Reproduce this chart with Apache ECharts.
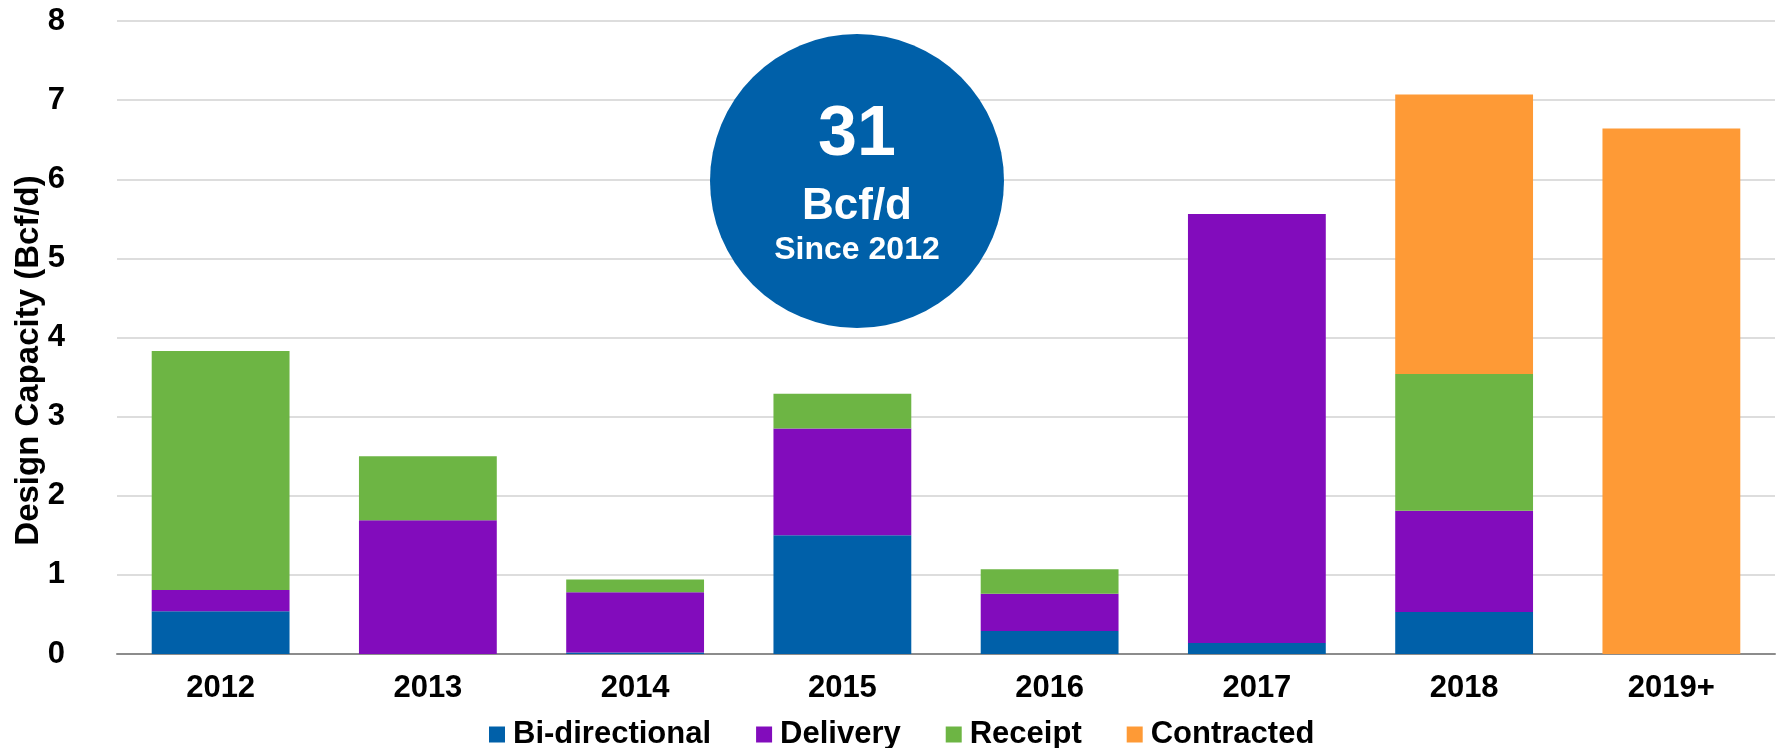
<!DOCTYPE html>
<html>
<head>
<meta charset="utf-8">
<script src="https://cdn.jsdelivr.net/npm/echarts@6/dist/echarts.min.js"></script>
<style>
  html, body { margin: 0; padding: 0; background: #fff; }
  #chart { width: 1777px; height: 748px; }
</style>
</head>
<body>
<div id="chart"></div>
<script>
// categories and stacked values (Bcf/d)
const years = ["2012", "2013", "2014", "2015", "2016", "2017", "2018", "2019+"];
const biDirectional = [0.54, 0, 0.02, 1.5, 0.29, 0.14, 0.53, 0];
const delivery = [0.27, 1.69, 0.76, 1.35, 0.47, 5.42, 1.28, 0];
const receipt = [3.02, 0.81, 0.16, 0.44, 0.31, 0, 1.73, 0];
const contracted = [0, 0, 0, 0, 0, 0, 3.53, 6.64];
const yTicks = [0, 1, 2, 3, 4, 5, 6, 7, 8];

const font = "'Liberation Sans', Arial, sans-serif";
const colors = ["#0060a9", "#820cbc", "#6db544", "#fe9a36"];

const chart = echarts.init(document.getElementById("chart"));

const mkSeries = (name, data, color) => ({
  name: name,
  type: "bar",
  stack: "total",
  barWidth: "66.5%",
  itemStyle: { color: color },
  data: data,
});

chart.setOption({
  animation: false,
  textStyle: { fontFamily: font },
  color: colors,
  grid: { left: 117, right: 2, top: 21, bottom: 94, outerBoundsMode: "none" },
  legend: {
    top: 714,
    left: 484,
    itemWidth: 16,
    itemHeight: 16,
    itemGap: 45,
    icon: "rect",
    textStyle: { fontSize: 31, fontWeight: "bold", color: "#000", fontFamily: font, padding: [0, 0, 0, 3] },
    data: ["Bi-directional", "Delivery", "Receipt", "Contracted"],
  },
  xAxis: {
    type: "category",
    data: years,
    axisTick: { show: false },
    axisLine: { lineStyle: { color: "#8c8c8c", width: 2 } },
    axisLabel: { margin: 19, fontSize: 31, fontWeight: "bold", color: "#000" },
  },
  yAxis: {
    type: "value",
    min: yTicks[0],
    max: yTicks[yTicks.length - 1],
    interval: 1,
    name: "Design Capacity (Bcf/d)",
    nameLocation: "middle",
    nameGap: 72,
    nameMoveOverlap: false,
    nameTextStyle: { fontSize: 33, fontWeight: "bold", color: "#000", padding: [0, 46, 0, 0] },
    axisLabel: { margin: 52, fontSize: 31, fontWeight: "bold", color: "#000" },
    axisLine: { show: false },
    axisTick: { show: false },
    splitLine: { lineStyle: { color: "#d2d2d2", width: 1.5 } },
  },
  graphic: [
    {
      type: "circle",
      shape: { cx: 857, cy: 181, r: 147 },
      style: { fill: "#0060a9" },
      z: 100,
    },
    {
      type: "text",
      x: 857, y: 136,
      style: { text: "31", fill: "#fff", font: "bold 70px " + font, textAlign: "center", textVerticalAlign: "middle" },
      z: 101,
    },
    {
      type: "text",
      x: 857, y: 207,
      style: { text: "Bcf/d", fill: "#fff", font: "bold 44px " + font, textAlign: "center", textVerticalAlign: "middle" },
      z: 101,
    },
    {
      type: "text",
      x: 857, y: 250,
      style: { text: "Since 2012", fill: "#fff", font: "bold 32px " + font, textAlign: "center", textVerticalAlign: "middle" },
      z: 101,
    },
  ],
  series: [
    mkSeries("Bi-directional", biDirectional, colors[0]),
    mkSeries("Delivery", delivery, colors[1]),
    mkSeries("Receipt", receipt, colors[2]),
    mkSeries("Contracted", contracted, colors[3]),
  ],
});
</script>
</body>
</html>
